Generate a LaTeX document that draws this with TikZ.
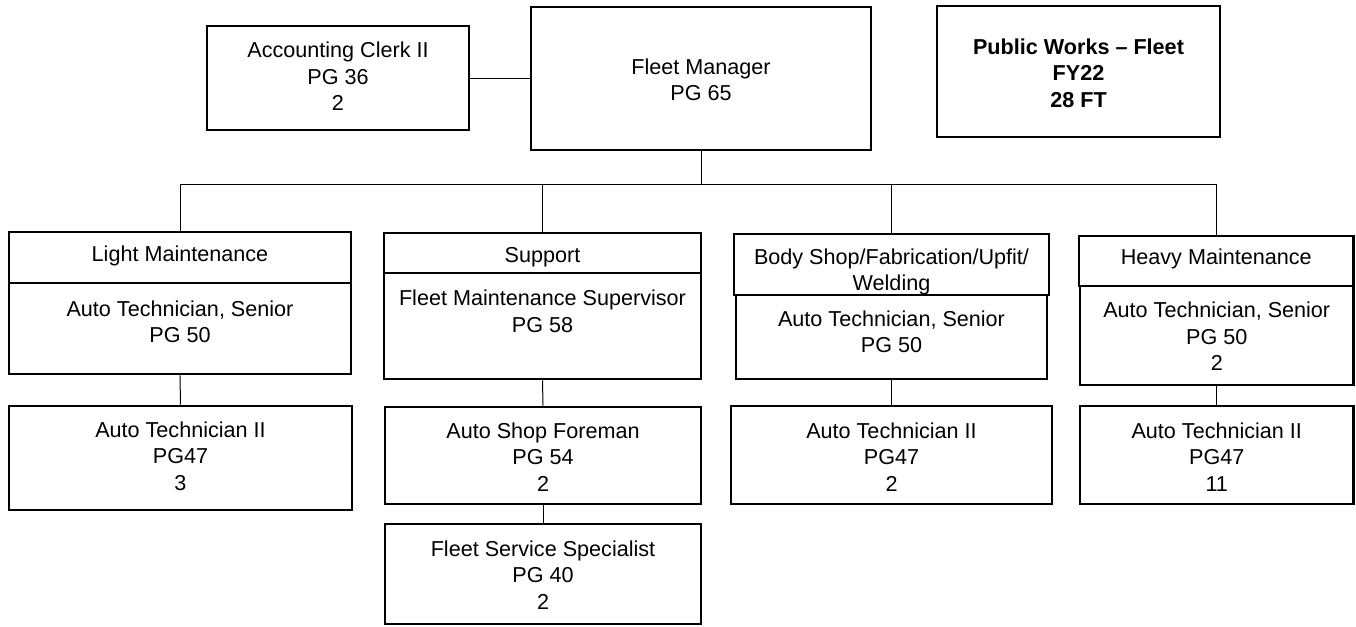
\documentclass[tikz,border=0pt]{standalone}
\usepackage{fontspec}
\setmainfont{Liberation Sans}
\tikzset{
  orgbox/.style={draw, line width=2.6pt, fill=white, inner sep=0pt},
  orgtxt/.style={align=center, inner sep=0pt, font=\fontsize{21.6}{26.5}\selectfont},
  link/.style={line width=1pt},
}
% #1 name, #2 x1, #3 y1, #4 x2, #5 y2, #6 text centre y, #7 text
\newcommand\orgunit[7]{%
  \node[orgbox, minimum width={(#4-#2)*1pt}, minimum height={(#5-#3)*1pt}] (#1) at ({(#2+#4)/2},{(#3+#5)/2}) {};
  \node[orgtxt] (#1-t) at ({(#2+#4)/2},{#6+2}) {#7};
}
\begin{document}
\begin{tikzpicture}[x=1pt,y=-1pt]
\useasboundingbox (0,0) rectangle (1356,626);
\coordinate (bus) at (0,184);
\orgunit{acc}{207}{26}{469}{130}{74.5}{Accounting Clerk II\\PG 36\\2}
\orgunit{fm}{531}{7}{871}{150}{78}{Fleet Manager\\PG 65}
\orgunit{pw}{937}{6}{1220}{137}{71}{\bfseries Public Works -- Fleet\\\bfseries FY22\\\bfseries 28 FT}
% Light maintenance
\orgunit{lmh}{9}{232}{351}{283}{254}{Light Maintenance}
\orgunit{lmb}{9}{283}{351}{374}{320}{Auto Technician, Senior\\PG 50}
\orgunit{lmc}{9}{406}{352}{510}{454}{Auto Technician II\\PG47\\3}
% Support
\orgunit{suh}{384}{233}{701}{273}{255}{Support}
\orgunit{sub}{384}{273}{701}{379}{309.5}{Fleet Maintenance Supervisor\\PG 58}
\orgunit{sf}{385}{407}{701}{504}{455}{Auto Shop Foreman\\PG 54\\2}
\orgunit{ss}{385}{524}{701}{624}{573}{Fleet Service Specialist\\PG 40\\2}
% Body shop
\orgunit{bsb}{736}{295}{1047}{379}{330}{Auto Technician, Senior\\PG 50}
\orgunit{bsh}{734}{234}{1049}{295}{270}{Body Shop/Fabrication/Upfit/\\Welding}
\orgunit{bsc}{731}{406}{1052}{504}{455}{Auto Technician II\\PG47\\2}
% Heavy maintenance
\orgunit{hmh}{1079}{236}{1353.5}{286}{257}{Heavy Maintenance}
\orgunit{hmb}{1080}{286}{1353.5}{385}{334.5}{Auto Technician, Senior\\PG 50\\2}
\orgunit{hmc}{1080}{406}{1353.5}{504}{455}{Auto Technician II\\PG47\\11}
% connectors
\draw[link] (acc.east) -- (acc.east -| fm.west);
\draw[link] (fm.south) -- (fm.south |- bus);
\draw[link] (lmh.north |- bus) -- (hmh.north |- bus);
\foreach \n in {lmh,suh,bsh,hmh} \draw[link] (\n.north |- bus) -- (\n.north);
\draw[link] (lmb.south) -- (lmc.north);
\draw[link] (sub.south) -- (sf.north);
\draw[link] (sf.south) -- (ss.north);
\draw[link] (bsb.south) -- (bsc.north);
\draw[link] (hmb.south) -- (hmc.north);
\end{tikzpicture}
\end{document}
